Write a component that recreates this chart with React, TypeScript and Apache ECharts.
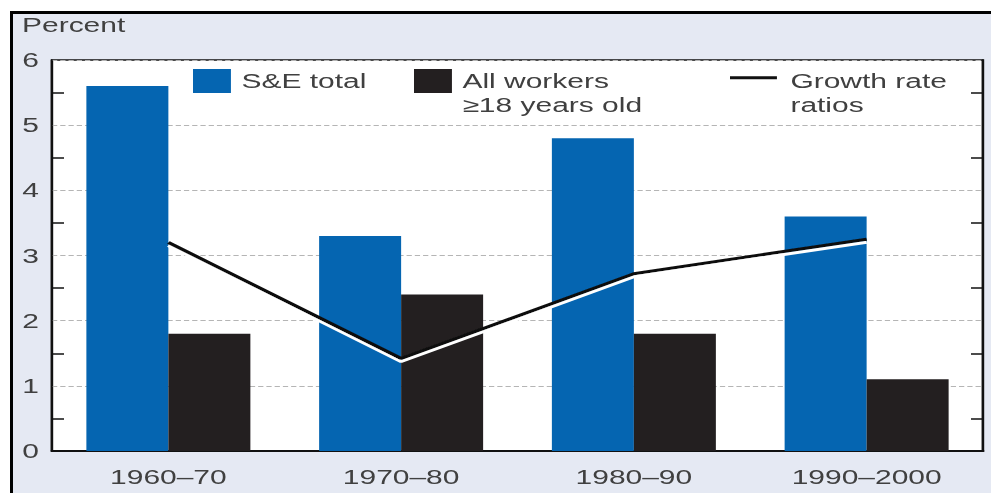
import React, { useEffect, useRef } from "react";
import * as echarts from "echarts";

const categories = ["1960–70", "1970–80", "1980–90", "1990–2000"];
const seTotal = [5.6, 3.3, 4.8, 3.6];
const allWorkers = [1.8, 2.4, 1.8, 1.1];
const growthRatios = [3.2, 1.42, 2.72, 3.25];
const yTicks = { min: 0, max: 6, interval: 1 };

const SE_NAME = "S&E total";
const AW_NAME = "All workers\n≥18 years old";
const GR_NAME = "Growth rate\nratios";

// The reference artwork is horizontally stretched; draw at a narrower width and stretch.
const PAGE_W = 991;
const PAGE_H = 493;
const BASE_W = 661;
const SX = PAGE_W / BASE_W;
const ux = (px: number) => px / SX;

export default function App() {
  const ref = useRef<HTMLDivElement>(null);
  useEffect(() => {
    if (!ref.current) return;
    const chart = echarts.init(ref.current, undefined, { renderer: "svg" });
    const font = "Liberation Sans, Arial, sans-serif";
    const txtColor = "#404040";
    const legendText = {
      fontFamily: font,
      fontSize: 20,
      color: txtColor,
      lineHeight: 24,
    };
    const boxW = Math.round(ux(38) * 10) / 10;
    const lineW = Math.round(ux(47) * 10) / 10;
    const squareIcon = `path://M0,0H${boxW}V24H0Z M${boxW - 0.02},47.98H${boxW}V48H${boxW - 0.02}Z`;
    const lineIcon = `path://M0,14.5H${lineW}V17.5H0Z M${lineW - 0.02},47.98H${lineW}V48H${lineW - 0.02}Z`;
    const yAxisBase = {
      type: "value" as const,
      min: yTicks.min,
      max: yTicks.max,
      interval: yTicks.interval,
      axisLine: { show: true, lineStyle: { color: "#111", width: 1.4 } },
      axisTick: { show: false, inside: true },
      minorTick: { show: true, splitNumber: 2, length: ux(12), lineStyle: { color: "#111", width: 1.5 } },
    };
    chart.setOption({
      animation: false,
      backgroundColor: "transparent",
      title: {
        text: "Percent",
        left: ux(22),
        top: 15,
        padding: 0,
        textStyle: { fontFamily: font, fontSize: 20, fontWeight: "normal", color: txtColor },
      },
      grid: {
        left: ux(52),
        right: BASE_W - ux(983),
        top: 60,
        bottom: PAGE_H - 451,
        show: true,
        backgroundColor: "#ffffff",
        borderColor: "#111",
        borderWidth: 1.6,
      },
      legend: [
        {
          data: [{ name: SE_NAME, icon: "rect" }],
          left: ux(193),
          top: 69,
          padding: 0,
          itemWidth: boxW,
          itemHeight: 24,
          textStyle: { ...legendText, padding: [0, 0, 0, 2] },
          itemStyle: { borderWidth: 0 },
          selectedMode: false,
        },
        {
          data: [{ name: AW_NAME, icon: squareIcon }],
          left: ux(414),
          top: 69,
          padding: 0,
          itemWidth: boxW,
          itemHeight: 48,
          textStyle: { ...legendText, padding: [0, 0, 0, 2] },
          itemStyle: { borderWidth: 0 },
          selectedMode: false,
        },
        {
          data: [{ name: GR_NAME, icon: lineIcon }],
          left: ux(730),
          top: 69,
          padding: 0,
          itemWidth: lineW,
          itemHeight: 48,
          textStyle: { ...legendText, padding: [0, 0, 0, 4] },
          itemStyle: { borderWidth: 0, color: "#111", shadowBlur: 0, shadowOffsetY: 0, shadowColor: "transparent" },
          lineStyle: { width: 0 },
          selectedMode: false,
        },
      ],
      xAxis: {
        type: "category",
        data: categories,
        axisLine: { show: true, lineStyle: { color: "#111", width: 2 } },
        axisTick: { show: false },
        axisLabel: { fontFamily: font, fontSize: 20, color: txtColor, margin: 16 },
      },
      yAxis: [
        {
          ...yAxisBase,
          position: "left",
          axisLabel: { fontFamily: font, fontSize: 20, color: txtColor, margin: ux(13) },
          splitLine: { show: true, lineStyle: { color: "#b5b5b5", type: [3.5, 2], width: 1 } },
        },
        {
          ...yAxisBase,
          position: "right",
          axisLabel: { show: false },
          splitLine: { show: false },
        },
      ],
      series: [
        {
          name: SE_NAME,
          type: "bar",
          data: seTotal,
          barWidth: ux(82),
          barGap: "0%",
          itemStyle: { color: "#0565b1" },
        },
        {
          name: AW_NAME,
          type: "bar",
          data: allWorkers,
          barWidth: ux(82),
          barGap: "0%",
          itemStyle: { color: "#231f20" },
        },
        {
          name: GR_NAME,
          type: "line",
          data: growthRatios,
          symbol: "none",
          z: 5,
          lineStyle: {
            color: "#111",
            width: 3,
            shadowColor: "#ffffff",
            shadowBlur: 0,
            shadowOffsetY: 3,
          },
          itemStyle: { color: "#111" },
        },
      ],
    });
    return () => chart.dispose();
  }, []);

  return (
    <div style={{ position: "absolute", left: 0, top: 0, width: PAGE_W, height: PAGE_H, background: "#ffffff", overflow: "hidden" }}>
      <div
        style={{
          position: "absolute",
          left: 10,
          top: 11,
          width: 990,
          height: 490,
          background: "#e5e9f3",
          borderTop: "3px solid #000",
          borderLeft: "3px solid #000",
        }}
      />
      <div
        ref={ref}
        style={{
          position: "absolute",
          left: 0,
          top: 0,
          width: BASE_W,
          height: PAGE_H,
          transform: `scaleX(${SX})`,
          transformOrigin: "0 0",
        }}
      />
    </div>
  );
}
